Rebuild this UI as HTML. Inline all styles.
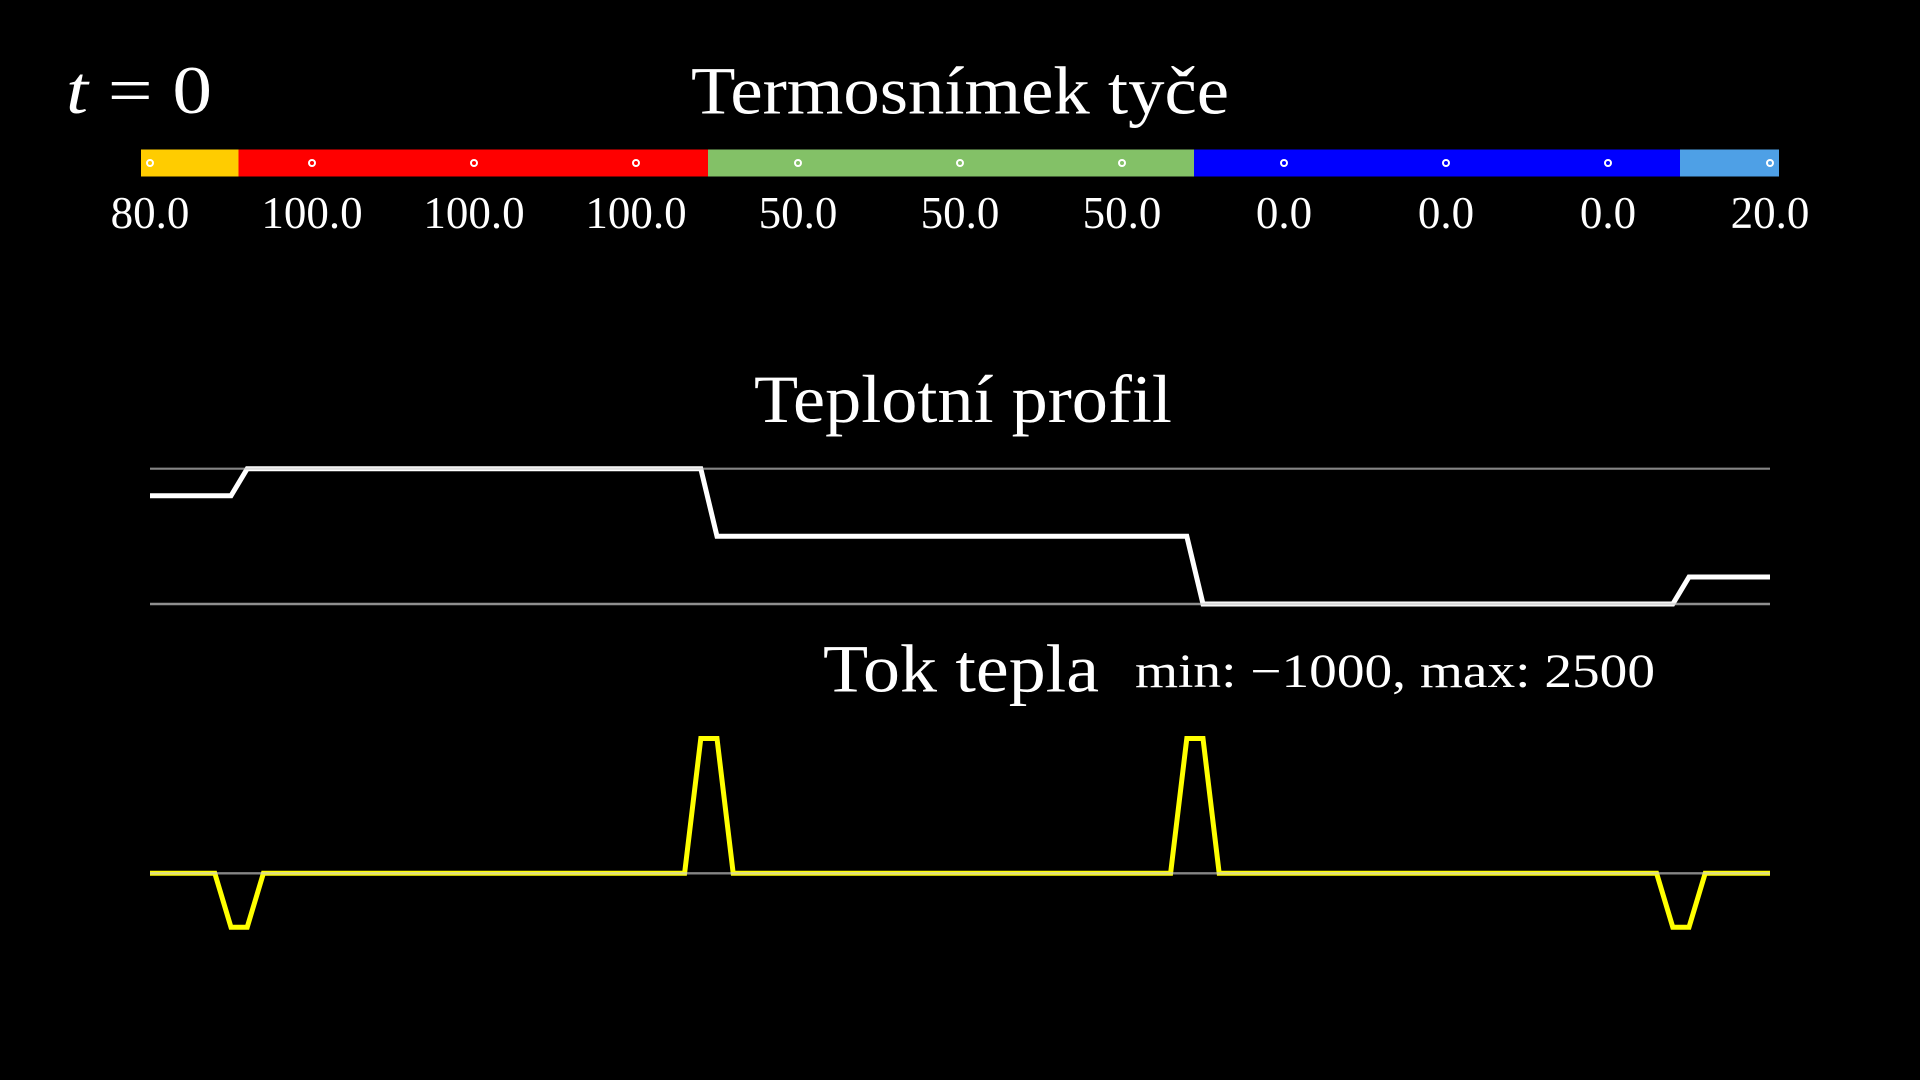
<!DOCTYPE html>
<html>
<head>
<meta charset="utf-8">
<style>
  html, body { margin: 0; padding: 0; background: #000; }
  body { width: 1920px; height: 1080px; overflow: hidden; }
  svg { display: block; }
  text { font-family: "Liberation Serif", "DejaVu Serif", serif; fill: #fff; }
</style>
</head>
<body>
<svg width="1920" height="1080" viewBox="0 0 1920 1080" xmlns="http://www.w3.org/2000/svg">
  <rect x="0" y="0" width="1920" height="1080" fill="#000"/>

  <!-- t = 0 -->
  <text x="66" y="113" font-size="68" textLength="146" lengthAdjust="spacingAndGlyphs"><tspan font-style="italic">t</tspan> = 0</text>

  <!-- Title -->
  <text x="691" y="113.5" font-size="68" textLength="538" lengthAdjust="spacingAndGlyphs">Termosnímek tyče</text>

  <!-- Bar -->
  <rect x="141" y="149.5" width="97.5" height="27" fill="#FFCC00"/>
  <rect x="238.5" y="149.5" width="469.5" height="27" fill="#FF0000"/>
  <rect x="708" y="149.5" width="486" height="27" fill="#83C167"/>
  <rect x="1194" y="149.5" width="486" height="27" fill="#0000FF"/>
  <rect x="1680" y="149.5" width="99" height="27" fill="#4EA0E6"/>

  <!-- dots -->
  <g stroke="#fff" stroke-width="2">
    <circle cx="150" cy="163" r="3" fill="#FFCC00"/>
    <circle cx="312" cy="163" r="3" fill="#FF0000"/>
    <circle cx="474" cy="163" r="3" fill="#FF0000"/>
    <circle cx="636" cy="163" r="3" fill="#FF0000"/>
    <circle cx="798" cy="163" r="3" fill="#83C167"/>
    <circle cx="960" cy="163" r="3" fill="#83C167"/>
    <circle cx="1122" cy="163" r="3" fill="#83C167"/>
    <circle cx="1284" cy="163" r="3" fill="#0000FF"/>
    <circle cx="1446" cy="163" r="3" fill="#0000FF"/>
    <circle cx="1608" cy="163" r="3" fill="#0000FF"/>
    <circle cx="1770" cy="163" r="3" fill="#4EA0E6"/>
  </g>

  <!-- labels -->
  <g font-size="45" text-anchor="middle">
    <text x="150" y="228">80.0</text>
    <text x="312" y="228">100.0</text>
    <text x="474" y="228">100.0</text>
    <text x="636" y="228">100.0</text>
    <text x="798" y="228">50.0</text>
    <text x="960" y="228">50.0</text>
    <text x="1122" y="228">50.0</text>
    <text x="1284" y="228">0.0</text>
    <text x="1446" y="228">0.0</text>
    <text x="1608" y="228">0.0</text>
    <text x="1770" y="228">20.0</text>
  </g>

  <!-- Teplotní profil -->
  <text x="754" y="422" font-size="68" textLength="418" lengthAdjust="spacingAndGlyphs">Teplotní profil</text>

  <polyline fill="none" stroke="#fff" stroke-width="5" stroke-linejoin="miter"
    points="150,495.8 231,495.8 247.2,468.7 700.8,468.7 717,536.3 1186.8,536.3 1203,604 1672.8,604 1689,577 1770,577"/>
  <line x1="150" y1="468.7" x2="1770" y2="468.7" stroke="#ccc" stroke-opacity="0.65" stroke-width="2.2"/>
  <line x1="150" y1="604" x2="1770" y2="604" stroke="#ccc" stroke-opacity="0.7" stroke-width="2.6"/>

  <!-- Tok tepla -->
  <text x="823" y="691.5" font-size="68" textLength="276" lengthAdjust="spacingAndGlyphs">Tok tepla</text>
  <text x="1135" y="687" font-size="48" textLength="520" lengthAdjust="spacingAndGlyphs">min: −1000, max: 2500</text>

  <polyline fill="none" stroke="#FFFF00" stroke-width="5" stroke-linejoin="miter"
    points="150,873.3 214.8,873.3 231,927.2 247.2,927.2 263.4,873.3 684.6,873.3 700.8,738.5 717,738.5 733.2,873.3 1170.6,873.3 1186.8,738.5 1203,738.5 1219.2,873.3 1656.6,873.3 1672.8,927.2 1689,927.2 1705.2,873.3 1770,873.3"/>
  <line x1="150" y1="873.3" x2="1770" y2="873.3" stroke="#ccc" stroke-opacity="0.65" stroke-width="2.4"/>
</svg>
</body>
</html>
